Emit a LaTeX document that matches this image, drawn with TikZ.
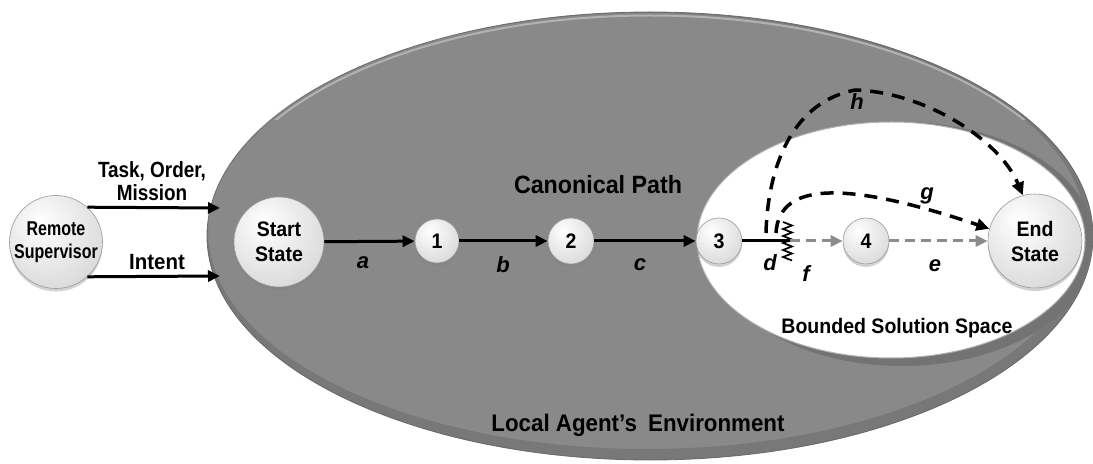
\documentclass[tikz,border=0pt]{standalone}
\usepackage{fontspec}
\setmainfont{Liberation Sans}
\newfontfamily\bfA{Liberation Sans Bold}[FakeStretch=0.93]
\newfontfamily\bfB{Liberation Sans Bold}[FakeStretch=0.86]
\newfontfamily\bfC{Liberation Sans Bold}[FakeStretch=0.80]
\newfontfamily\lblit{Liberation Sans Bold Italic}
\usetikzlibrary{arrows.meta,shapes.geometric,shadows}

% glossy sphere shading for the state nodes
\pgfdeclareradialshading{orb}{\pgfpoint{-9bp}{12bp}}{%
  color(0bp)=(white); color(14bp)=(black!6); color(30bp)=(black!13);
  color(44bp)=(black!22); color(52bp)=(black!42); color(70bp)=(black!42)}

\definecolor{envgray}{RGB}{137,137,137}
\definecolor{pathgray}{RGB}{140,140,140}

\tikzset{
  orb/.style={circle, shading=orb, draw=black!40, line width=0.6bp, inner sep=0pt,
    align=center, drop shadow={shadow xshift=0bp, shadow yshift=-3bp, opacity=0.35}},
  txt/.style={font=\bfA\fontsize{22bp}{24bp}\selectfont, align=center, inner sep=0pt},
  edgelbl/.style={font=\lblit\fontsize{22bp}{24bp}\selectfont, inner sep=0pt},
  arr/.style={line width=3bp, -{Triangle[length=12bp,width=11bp]}},
  garr/.style={pathgray, line width=3bp, dash pattern=on 10bp off 6bp,
    -{Triangle[length=12bp,width=11bp]}},
  darr/.style={line width=3.5bp, dash pattern=on 13bp off 9bp,
    -{Triangle[length=13bp,width=12bp]}},
}

\begin{document}
\begin{tikzpicture}[x=1bp,y=-1bp]
\useasboundingbox (0,0) rectangle (1093,464);

% local agent's environment
\node[ellipse, minimum width=886bp, minimum height=448bp, inner sep=0pt,
  fill=envgray, draw=black!55, line width=0.8bp] (env) at (650,236) {};
% darker bevel along the lower right rim
\fill[black, opacity=0.12, even odd rule]
  (650,236) ellipse [x radius=443, y radius=224]
  (647,231) ellipse [x radius=439, y radius=218];
% light highlight along the upper rim
\begin{scope}
  \clip (200,0) rectangle (1093,120);
  \draw[black!30, line width=2bp] (650,237.5) ellipse [x radius=441, y radius=222];
\end{scope}

% bounded solution space: a tilted white disc with a grey edge
\begin{scope}
  \clip (650,236) ellipse [x radius=443, y radius=224];
  \fill[black!55] (902,244) ellipse [x radius=193, y radius=122];
\end{scope}
\node[ellipse, minimum width=388bp, minimum height=236bp, inner sep=0pt,
  fill=white, draw=black!30, line width=1bp] (bss) at (891,240) {};

% state nodes
\node[orb, minimum size=92bp, font=\bfC\fontsize{20bp}{23bp}\selectfont] (rs) at (56,242) {Remote\\Supervisor};
\node[orb, minimum size=90bp, font=\bfA\fontsize{21bp}{25bp}\selectfont] (start) at (279,242) {Start\\State};
\node[orb, minimum size=44bp, font=\bfA\fontsize{21bp}{24bp}\selectfont] (n1) at (437,241) {1};
\node[orb, minimum size=46bp, font=\bfA\fontsize{21bp}{24bp}\selectfont] (n2) at (571,241) {2};
\node[orb, minimum size=46bp, font=\bfA\fontsize{21bp}{24bp}\selectfont] (n3) at (719,241) {3};
\node[orb, minimum size=46bp, font=\bfA\fontsize{21bp}{24bp}\selectfont] (n4) at (866,241) {4};
\node[orb, minimum size=94bp, font=\bfA\fontsize{21bp}{25bp}\selectfont] (end) at (1035,241) {End\\State};

% inputs from the supervisor
\coordinate (envT) at (220,208);
\coordinate (envI) at (220,276);
\draw[arr] (rs.48) -- (envT);
\draw[arr] (rs.-48) -- (envI);
\node[txt, font=\bfB\fontsize{22bp}{23bp}\selectfont] (tom) at (152,181) {Task, Order,\\Mission};
\node[txt] (intent) at (157,262) {Intent};

% canonical path
\draw[arr] (start) -- (n1);
\draw[arr] (n1) -- (n2);
\draw[arr] (n2) -- (n3);
\coordinate (brk) at (790,241);
\draw[line width=3bp] (n3) -- (brk);
% break mark on the path
\draw[line width=1.7bp, line join=miter]
  (brk) ++(-7,-19) -- ++(9,3.5) -- ++(-9,3.5) -- ++(9,3.5) -- ++(-9,3.5)
  -- ++(9,3.5) -- ++(-9,3.5) -- ++(9,3.5) -- ++(-9,3.5) -- ++(9,3.5)
  -- ++(-9,3.5) -- ++(9,3.5);
\draw[garr] (brk) -- (n4);
\draw[garr] (n4) -- (end);

% alternative routes
\coordinate (hs) at (766,233);
\coordinate (gs) at (776,233);
\draw[darr] (hs) .. controls (767,190) and (780,105) .. (855,90)
  .. controls (925,92) and (1000,140) .. (end.105);
\draw[darr] (gs) .. controls (779,180) and (850,182) .. (end.165);

% edge labels
\node[edgelbl] (la) at (363,263) {a};
\node[edgelbl] (lb) at (503,265) {b};
\node[edgelbl] (lc) at (640,265) {c};
\node[edgelbl] (ld) at (770,263) {d};
\node[edgelbl] (lf) at (806,274) {f};
\node[edgelbl] (le) at (935,266) {e};
\node[edgelbl] (lg) at (927,196) {g};
\node[edgelbl] (lh) at (857,102) {h};

% region titles
\node[txt, font=\bfA\fontsize{25bp}{27bp}\selectfont] (canon) at (598,185) {Canonical Path};
\node[txt, font=\bfA\fontsize{21bp}{24bp}\selectfont] (bsstxt) at (897,328) {Bounded Solution Space};
\node[txt, font=\bfA\fontsize{24bp}{26bp}\selectfont] (envtxt) at (638,425) {Local Agent’s\hspace{5bp} Environment};
\end{tikzpicture}
\end{document}
